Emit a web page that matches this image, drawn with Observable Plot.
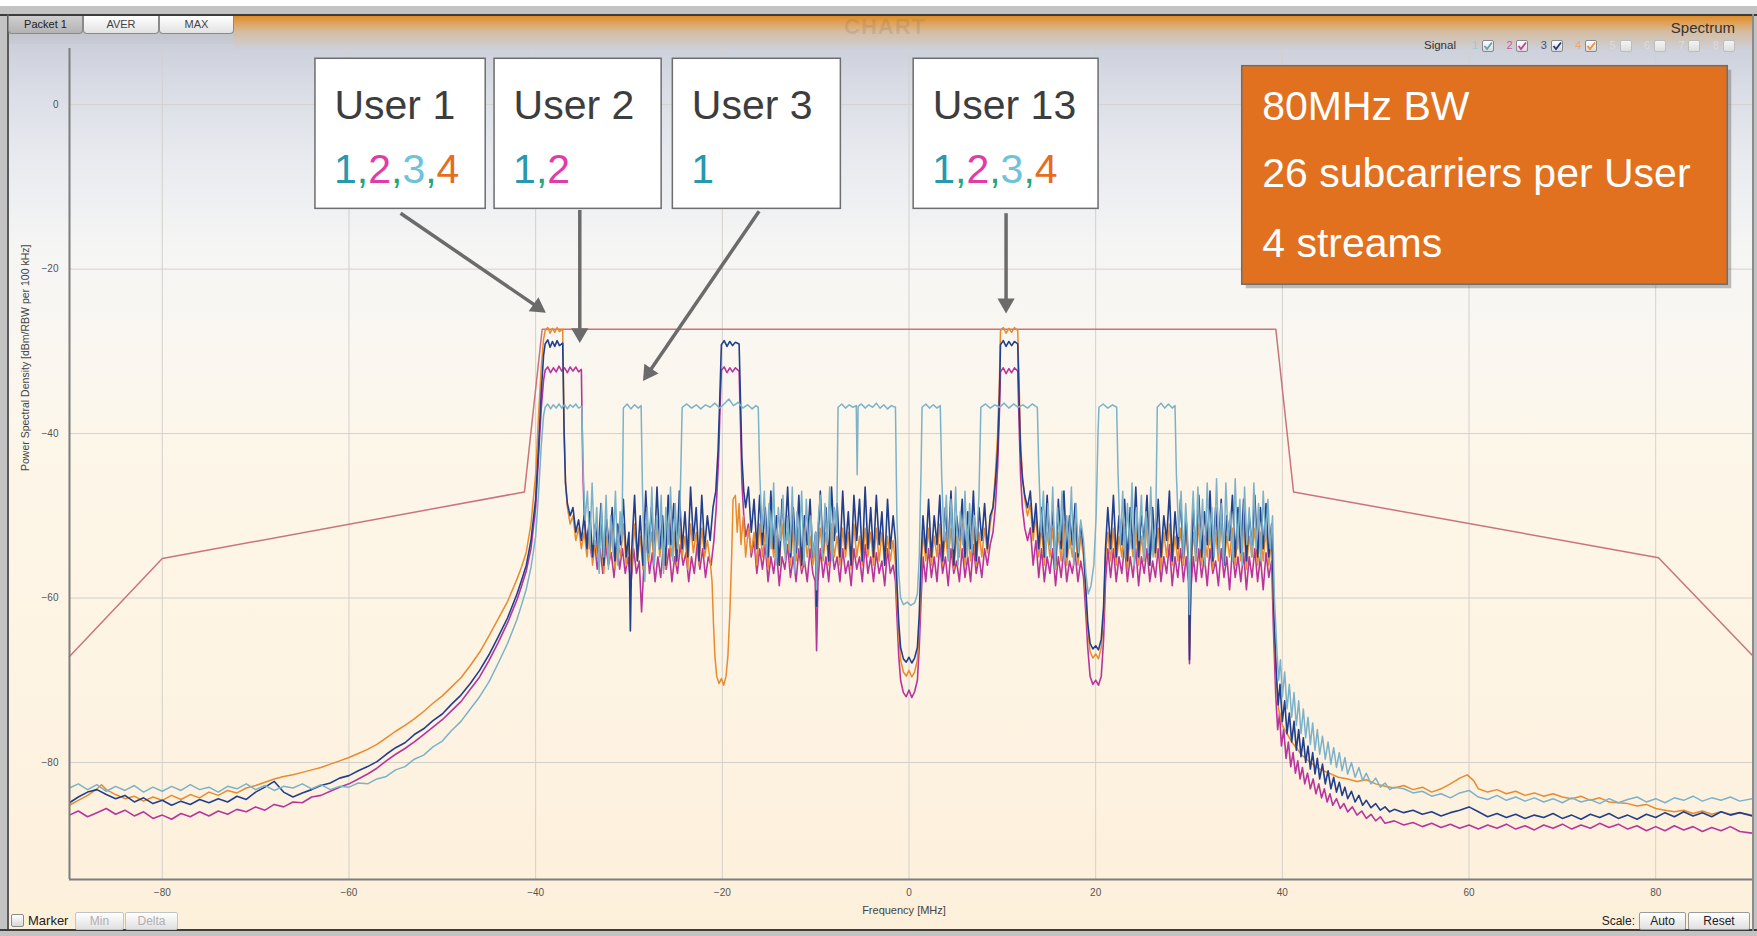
<!DOCTYPE html>
<html>
<head>
<meta charset="utf-8">
<script src="https://cdn.jsdelivr.net/npm/d3@7"></script>
<script src="https://cdn.jsdelivr.net/npm/@observablehq/plot@0.6"></script>
<style>
  html, body { margin:0; padding:0; background:#ffffff; }
  #wrap { position:relative; width:1757px; height:936px; overflow:hidden; font-family:"Liberation Sans", Arial, sans-serif; }
  .abs { position:absolute; }
  #outer { left:0; top:6px; width:1757px; height:930px; background:#c3c3c3; }
  #bg { left:9px; top:16px; width:1743px; height:913px;
        background:linear-gradient(to bottom, #c8cbd5 0px, #ccd0da 30px, #d9dce5 70px, #e8eaef 140px, #f5f5f4 230px, #faf7f1 330px, #fdf6e8 450px, #fdf3e2 700px, #fdf0db 913px); }
  #topline { left:0; top:14px; width:1757px; height:2px; background:#3c3c3c; }
  #leftline { left:7px; top:14px; width:2px; height:917px; background:#5a5a5a; }
  #botline { left:0; top:929px; width:1757px; height:2px; background:#3c3c3c; }
  #rightline { left:1752px; top:14px; width:2px; height:917px; background:#8a8a8a; }
  #orangeband { left:234px; top:16px; width:1518px; height:34px;
        background:linear-gradient(to bottom, rgba(224,140,38,1) 0px, rgba(228,152,60,0.85) 6px, rgba(225,170,100,0.45) 16px, rgba(210,195,185,0) 34px); }
  #btnband { left:9px; top:16px; width:225px; height:28px; background:linear-gradient(to bottom,#bcbcbc,#c8cbd5); }
  #chart { left:0; top:0; width:1757px; height:936px; }
  .tab { top:16px; height:18px; border:1px solid #8a8a8a; border-top:none; border-radius:0 0 4px 4px;
         font-size:11px; line-height:17px; text-align:center; color:#444; box-sizing:border-box;
         background:linear-gradient(to bottom,#ffffff,#e2e2e2); }
  .btn { height:18px; border:1px solid #9a9a9a; font-size:12px; line-height:16px; text-align:center; box-sizing:border-box;
         background:linear-gradient(to bottom,#ffffff,#e0e0e0); border-radius:2px; }
  .cb { width:12px; height:12px; border:1px solid #8a8a8a; box-sizing:border-box; border-radius:2px;
        background:linear-gradient(to bottom,#ffffff,#d8d8d8); }
</style>
</head>
<body>
<div id="wrap">
  <div id="outer" class="abs"></div>
  <div id="bg" class="abs"></div>
  <div id="btnband" class="abs"></div>
  <div id="orangeband" class="abs"></div>
  <div id="topline" class="abs"></div>
  <div id="leftline" class="abs"></div>
  <div id="botline" class="abs"></div>
  <div id="rightline" class="abs"></div>
  <div class="abs" style="left:835px;top:14px;width:100px;text-align:center;font-weight:bold;font-size:22px;color:rgba(140,115,90,0.22);letter-spacing:1px;">CHART</div>
  <div id="chart" class="abs"></div>
  <div class="abs tab" style="left:8px;width:75px;background:linear-gradient(to bottom,#cfcfcf,#b3b3b3);color:#222;">Packet 1</div>
  <div class="abs tab" style="left:83px;width:76px;">AVER</div>
  <div class="abs tab" style="left:159px;width:75px;">MAX</div>
  <div class="abs" style="left:1600px;top:19px;width:135px;text-align:right;font-size:15px;color:#333;">Spectrum</div>
  <div class="abs" style="left:1424px;top:39px;font-size:11.5px;color:#333;">Signal</div>
  <div id="legend"></div>
  <div class="abs cb" style="left:11px;top:914px;width:13px;height:13px;"></div>
  <div class="abs" style="left:28px;top:913px;font-size:13px;color:#222;">Marker</div>
  <div class="abs btn" style="left:75px;top:912px;width:49px;color:#b0b0b0;border-color:#c4c4c4;">Min</div>
  <div class="abs btn" style="left:125px;top:912px;width:53px;color:#b0b0b0;border-color:#c4c4c4;">Delta</div>
  <div class="abs" style="left:1560px;top:914px;width:75px;text-align:right;font-size:12px;color:#222;">Scale:</div>
  <div class="abs btn" style="left:1639px;top:912px;width:47px;color:#222;">Auto</div>
  <div class="abs btn" style="left:1688px;top:912px;width:62px;color:#222;">Reset</div>
</div>
<script>
// ---------- axis ticks ----------
const xTicks = [-80, -60, -40, -20, 0, 20, 40, 60, 80];
const yTicks = [0, -20, -40, -60, -80];

// ---------- spectral mask (MHz, dB) ----------
const maskFreq  = [-89.94, -80, -41.2, -39.3, 39.3, 41.2, 80.3, 90.37];
const maskLevel = [-67.1, -55.2, -47.1, -27.3, -27.3, -47.1, -55.1, -67.0];

// ---------- stream 1 (light cyan) [MHz, dB] ----------
const stream1 = [
 [-89.94,-83.1],[-89,-82.6],[-88,-83.3],[-87,-82.7],[-86,-83.5],[-85,-82.9],[-84,-83.4],[-83,-82.8],[-82,-83.6],[-81,-83.0],[-80,-83.5],[-79,-82.9],[-78,-83.4],[-77,-82.7],[-76,-83.3],[-75,-83.0],[-74,-83.6],[-73,-82.9],[-72,-83.2],[-71,-82.6],[-70,-83.3],[-69,-82.8],[-68,-83.4],[-67,-82.9],[-66,-83.1],[-65,-82.6],[-64,-83.2],[-63,-82.7],[-62,-83.3],[-61,-82.9],[-60,-83.0],[-59,-82.5],[-58,-82.6],[-57,-82.0],[-56,-81.7],[-55,-80.9],[-54,-80.5],[-53,-79.6],[-52,-79.1],[-51,-78.1],[-50,-77.4],[-49,-76.1],[-48,-75.0],[-47,-73.5],[-46,-72.0],[-45,-70.2],[-44,-67.9],[-43,-65.5],[-42,-62.6],[-41.5,-60.8],[-41,-58.9],[-40.5,-56.3],[-40,-52.5],[-39.7,-47.5],[-39.4,-41.5],[-39.15,-37.8],
 [-38.98,-36.8],[-38.7,-36.4],[-38.4,-37.0],[-38.1,-36.5],[-37.8,-36.9],[-37.5,-36.4],[-37.2,-36.9],[-36.9,-36.5],[-36.6,-37.0],[-36.3,-36.5],[-36.0,-36.8],[-35.7,-36.4],[-35.4,-36.9],[-35.05,-36.7],
 [-34.9,-44.5],[-34.7,-50.5],[-34.45,-47],[-34.2,-54],[-33.95,-46],[-33.7,-53.5],[-33.45,-49],[-33.2,-57],[-32.95,-48.5],[-32.7,-55],[-32.45,-47.5],[-32.2,-56.5],[-31.95,-50],[-31.7,-54.5],[-31.45,-47],[-31.2,-56],[-30.95,-49.5],[-30.75,-53],
 [-30.6,-36.9],[-30.2,-36.4],[-29.8,-37.0],[-29.4,-36.5],[-29.0,-36.9],[-28.7,-36.6],
 [-28.55,-47],[-28.3,-58],[-28.05,-49],[-27.8,-55],[-27.55,-46.5],[-27.3,-56],[-27.05,-50],[-26.8,-54],[-26.55,-47.5],[-26.3,-57],[-26.05,-49],[-25.8,-53.5],[-25.55,-46.5],[-25.3,-55.5],[-25.05,-48.5],[-24.8,-54],[-24.55,-50],
 [-24.3,-36.8],[-23.8,-36.4],[-23.3,-36.9],[-22.8,-36.5],[-22.3,-37.0],[-21.8,-36.5],[-21.3,-36.8],[-20.8,-36.3],[-20.3,-36.9],[-19.8,-36.4],[-19.3,-35.8],[-18.8,-36.6],[-18.3,-36.2],[-17.8,-36.9],[-17.3,-36.5],[-16.8,-37.0],[-16.4,-36.6],[-16.15,-36.8],
 [-16.0,-44.5],[-15.75,-52],[-15.5,-47],[-15.25,-55],[-15.0,-48.5],[-14.75,-54],[-14.5,-46],[-14.25,-56],[-14.0,-49],[-13.75,-53],[-13.5,-47.5],[-13.25,-55.5],[-13.0,-50],[-12.75,-54.5],[-12.5,-46.5],[-12.25,-57],[-12.0,-49.5],[-11.75,-53.5],[-11.5,-47],[-11.25,-56],[-11.0,-48],[-10.75,-54],[-10.5,-50],[-10.25,-55],[-10.0,-52],[-9.9,-59],[-9.75,-51],[-9.5,-47.5],[-9.25,-55],[-9.0,-48.5],[-8.75,-53.5],[-8.5,-46.5],[-8.25,-55.5],[-8.0,-49],[-7.75,-52],
 [-7.6,-36.8],[-7.2,-36.4],[-6.8,-36.9],[-6.4,-36.5],[-6.0,-36.8],[-5.65,-36.6],[-5.55,-45],[-5.45,-36.7],[-5.1,-36.4],[-4.7,-36.9],[-4.3,-36.5],[-3.9,-36.8],[-3.5,-36.3],[-3.1,-36.9],[-2.7,-36.5],[-2.3,-37.0],[-1.9,-36.6],[-1.45,-36.8],
 [-1.3,-50],[-1.1,-57],[-0.9,-60],[-0.6,-60.8],[-0.2,-60.5],[0.2,-60.9],[0.6,-60.6],[0.9,-59.5],[1.1,-55],[1.3,-44],
 [1.4,-36.8],[1.8,-36.4],[2.2,-36.9],[2.6,-36.5],[3.0,-36.9],[3.35,-36.6],
 [3.5,-45],[3.75,-53],[4.0,-47.5],[4.25,-55.5],[4.5,-48],[4.75,-54],[5.0,-46.5],[5.25,-56],[5.5,-49.5],[5.75,-53.5],[6.0,-47],[6.25,-55],[6.5,-48.5],[6.75,-54.5],[7.0,-50],[7.25,-53],[7.5,-47.5],
 [7.7,-36.8],[8.2,-36.4],[8.7,-36.9],[9.2,-36.5],[9.7,-36.8],[10.2,-36.3],[10.7,-36.9],[11.2,-36.4],[11.7,-36.8],[12.2,-36.5],[12.7,-36.9],[13.2,-36.4],[13.75,-36.8],
 [13.9,-44],[14.15,-52],[14.4,-47],[14.65,-55],[14.9,-48.5],[15.15,-54],[15.4,-46.5],[15.65,-56.5],[15.9,-49],[16.15,-53],[16.4,-47],[16.65,-55.5],[16.9,-50],[17.15,-54],[17.4,-46.5],[17.65,-56],[17.9,-48.5],[18.15,-54.5],[18.4,-50.5],[18.7,-53],
 [18.95,-57],[19.2,-59.5],[19.5,-58.5],[19.8,-56],[20.05,-50],[20.25,-40],
 [20.35,-36.8],[20.8,-36.4],[21.3,-36.9],[21.8,-36.5],[22.25,-36.8],
 [22.4,-45],[22.65,-53.5],[22.9,-47],[23.15,-55],[23.4,-48.5],[23.65,-54],[23.9,-46],[24.15,-56],[24.4,-49],[24.65,-53],[24.9,-47.5],[25.15,-55.5],[25.4,-49.5],[25.65,-54.5],[25.9,-46.5],[26.15,-55],[26.45,-50],
 [26.6,-36.8],[27.0,-36.3],[27.4,-36.9],[27.8,-36.4],[28.2,-36.9],[28.5,-36.6],
 [28.65,-45],[28.9,-52.5],[29.15,-47],[29.4,-55],[29.65,-48.5],[29.9,-54],[30.05,-62],[30.2,-53],[30.45,-47],[30.7,-55.5],[30.95,-46.5],[31.2,-54],[31.45,-48],[31.7,-56],[31.95,-46],[32.2,-53.5],[32.45,-49],[32.7,-55],[32.95,-45.5],[33.2,-54.5],[33.45,-48.5],[33.7,-56],[33.95,-46],[34.2,-53],[34.45,-49.5],[34.7,-55.5],[34.95,-45.5],[35.2,-54],[35.45,-48],[35.7,-56],[35.95,-46.5],[36.2,-53.5],[36.45,-49],[36.7,-55],[36.95,-46],[37.2,-54],[37.45,-48.5],[37.7,-55.5],[37.95,-47],[38.2,-53],[38.45,-48],[38.7,-54],[38.95,-50],
 [39.15,-60],[39.4,-66],[39.6,-70],[39.8,-67.5],[40.0,-72],[40.25,-69],[40.5,-73.5],[40.75,-70.5],[41.0,-74.5],[41.25,-71.5],[41.5,-75.5],[41.75,-72.5],[42.0,-76.5],[42.25,-73.5],[42.5,-77],[42.75,-74.5],[43.0,-77.8],[43.25,-75.2],[43.5,-78.5],[43.75,-76],[44.0,-79],[44.3,-76.8],[44.6,-79.6],[44.9,-77.5],[45.2,-80.2],[45.5,-78.2],[45.8,-80.6],[46.1,-78.8],[46.4,-81],[46.7,-79.4],[47.0,-81.4],[47.4,-80],[47.8,-81.8],[48.2,-80.6],[48.6,-82.2],[49,-81.3],[49.5,-82.6],[50,-81.9],[50.5,-83],[51,-82.5],[51.5,-83.3],[52,-83.0],[53,-83.2],[54,-83.7],[55,-83.5],[56,-84.1],[57,-83.8],[58,-84.3],[59,-83.7],[60,-83.4],[61,-84.2],[62,-84.5],[63,-84.0],[64,-84.6],[65,-84.2],[66,-84.7],[67,-84.3],[68,-84.8],[69,-84.4],[70,-84.9],[71,-84.3],[72,-84.8],[73,-84.5],[74,-85.0],[75,-84.4],[76,-84.9],[77,-84.5],[78,-84.2],[79,-84.8],[80,-84.4],[81,-84.9],[82,-84.3],[83,-84.6],[84,-84.1],[85,-84.7],[86,-84.3],[87,-84.6],[88,-84.2],[89,-84.7],[90.37,-84.4]
];

// ---------- stream 2 (magenta) ----------
const stream2 = [
 [-89.94,-86.4],[-89,-85.9],[-88,-86.6],[-87,-86.1],[-86,-85.6],[-85,-86.3],[-84,-85.8],[-83,-86.5],[-82,-86.0],[-81,-86.8],[-80,-86.4],[-79,-86.9],[-78,-86.2],[-77,-86.6],[-76,-86.0],[-75,-86.5],[-74,-85.9],[-73,-86.3],[-72,-85.7],[-71,-86.0],[-70,-85.4],[-69,-85.8],[-68,-85.1],[-67,-85.4],[-66,-84.8],[-65,-84.9],[-64,-84.2],[-63,-84.0],[-62,-83.5],[-61,-83.0],[-60,-82.6],[-59,-82.0],[-58,-81.4],[-57,-80.7],[-56,-79.8],[-55,-79.0],[-54,-78.3],[-53,-77.5],[-52,-76.6],[-51,-75.7],[-50,-74.8],[-49,-73.7],[-48,-72.6],[-47,-71.1],[-46,-69.6],[-45,-67.6],[-44,-65.4],[-43,-63.0],[-42,-60.2],[-41.5,-58.5],[-41,-56.7],[-40.5,-54],[-40,-49],[-39.7,-43],[-39.4,-37],[-39.15,-33.5],
 [-38.98,-32.3],[-38.7,-31.9],[-38.4,-32.6],[-38.1,-32.0],[-37.8,-32.5],[-37.5,-31.8],[-37.2,-32.4],[-36.9,-32.0],[-36.6,-32.6],[-36.3,-31.9],[-36.0,-32.4],[-35.7,-31.9],[-35.4,-32.5],[-35.1,-32.2],
 [-34.95,-44],[-34.8,-50],[-34.6,-53],[-34.3,-51.5],[-34.0,-55],[-33.7,-53],[-33.4,-56.5],[-33.1,-54],[-32.8,-57],[-32.5,-53.5],[-32.2,-56],[-31.9,-54.5],[-31.6,-57.5],[-31.3,-53],[-31.0,-56.5],[-30.7,-54],[-30.4,-57],[-30.1,-55],[-29.8,-58.5],[-29.5,-54],[-29.2,-57],[-28.9,-55.5],[-28.65,-61.7],[-28.4,-56],[-28.1,-53],[-27.8,-57],[-27.5,-54.5],[-27.2,-58],[-26.9,-55],[-26.6,-57.5],[-26.3,-53.5],[-26.0,-56.5],[-25.7,-54],[-25.4,-58],[-25.1,-55],[-24.8,-57],[-24.5,-53.5],[-24.2,-56],[-23.9,-54.5],[-23.6,-58],[-23.3,-55],[-23.0,-57],[-22.7,-53.5],[-22.4,-56.5],[-22.1,-54],[-21.8,-57.5],[-21.5,-55],[-21.2,-56],[-20.9,-53],[-20.65,-49],[-20.4,-43],[-20.22,-36],
 [-20.1,-32.3],[-19.8,-31.9],[-19.5,-32.6],[-19.2,-32.0],[-18.9,-32.5],[-18.6,-32.0],[-18.2,-32.4],
 [-18.05,-39],[-17.9,-46],[-17.7,-50],[-17.5,-52.5],[-17.2,-51],[-16.9,-55],[-16.6,-53],[-16.3,-57],[-16.0,-54],[-15.7,-56.5],[-15.4,-53.5],[-15.1,-58],[-14.8,-55],[-14.5,-57],[-14.2,-54],[-13.9,-58.5],[-13.6,-55],[-13.3,-56.5],[-13.0,-53.5],[-12.7,-57.5],[-12.4,-55],[-12.1,-58],[-11.8,-54],[-11.5,-57],[-11.2,-55.5],[-10.9,-58],[-10.6,-54],[-10.3,-57],[-10.05,-58],[-9.9,-66.4],[-9.75,-58],[-9.5,-54],[-9.2,-57.5],[-8.9,-55],[-8.6,-58],[-8.3,-53.5],[-8.0,-56.5],[-7.7,-55],[-7.4,-58],[-7.1,-54],[-6.8,-57],[-6.5,-55.5],[-6.2,-58.5],[-5.9,-54],[-5.6,-56.5],[-5.3,-55],[-5.0,-58],[-4.7,-53.5],[-4.4,-57],[-4.1,-55],[-3.8,-58],[-3.5,-54.5],[-3.2,-57],[-2.9,-55.5],[-2.6,-58.5],[-2.3,-54],[-2.0,-57],[-1.7,-56],[-1.45,-58],
 [-1.3,-62],[-1.1,-67],[-0.9,-70],[-0.6,-71.5],[-0.3,-72],[0,-71.2],[0.3,-72.1],[0.6,-71.4],[0.9,-70],[1.1,-66],[1.3,-60],
 [1.5,-55],[1.8,-58],[2.1,-54],[2.4,-57.5],[2.7,-55],[3.0,-58],[3.3,-53.5],[3.6,-57],[3.9,-55],[4.2,-58.5],[4.5,-54],[4.8,-57],[5.1,-55.5],[5.4,-58],[5.7,-54],[6.0,-57.5],[6.3,-55],[6.6,-58],[6.9,-53.5],[7.2,-57],[7.5,-55],[7.8,-57.5],[8.1,-54],[8.4,-56],[8.7,-53.5],[9.0,-52],[9.25,-49],[9.5,-44],[9.7,-37],
 [9.8,-32.5],[10.1,-32.0],[10.4,-32.7],[10.7,-32.1],[11.0,-32.6],[11.3,-32.0],[11.65,-32.4],
 [11.8,-39],[11.95,-45],[12.15,-49],[12.4,-51.5],[12.7,-53],[13.0,-51.5],[13.3,-56],[13.6,-53],[13.9,-57.5],[14.2,-54],[14.5,-58],[14.8,-55],[15.1,-57],[15.4,-54],[15.7,-58.5],[16.0,-55],[16.3,-57.5],[16.6,-54],[16.9,-58],[17.2,-55.5],[17.5,-57],[17.8,-54.5],[18.1,-58],[18.4,-55.5],[18.7,-57.5],
 [18.95,-62],[19.15,-66],[19.4,-69.5],[19.7,-70.5],[20.0,-70.0],[20.3,-70.6],[20.6,-69.5],[20.85,-65],[21.05,-58],
 [21.3,-54],[21.6,-57.5],[21.9,-54],[22.2,-58],[22.5,-55],[22.8,-57],[23.1,-53.5],[23.4,-58],[23.7,-55],[24.0,-57.5],[24.3,-54],[24.6,-58.5],[24.9,-55],[25.2,-57],[25.5,-54],[25.8,-58],[26.1,-55.5],[26.4,-57.5],[26.7,-54],[27.0,-58],[27.3,-55],[27.6,-57],[27.9,-53.5],[28.2,-58.5],[28.5,-55],[28.8,-57.5],[29.1,-54],[29.4,-58],[29.7,-55],[29.95,-58],[30.05,-68],[30.2,-59],[30.45,-55],[30.75,-58],[31.05,-54],[31.35,-57.5],[31.65,-55],[31.95,-58.5],[32.25,-54],[32.55,-57],[32.85,-55.5],[33.15,-58.5],[33.45,-54],[33.75,-57.5],[34.05,-55],[34.35,-59],[34.65,-54],[34.95,-57.5],[35.25,-55],[35.55,-58],[35.85,-54.5],[36.15,-59],[36.45,-55],[36.75,-57.5],[37.05,-54],[37.35,-58],[37.65,-55],[37.95,-59],[38.25,-54.5],[38.55,-57.5],[38.85,-55.5],
 [39.05,-64],[39.3,-72],[39.5,-76],[39.7,-74],[39.9,-78],[40.15,-76],[40.4,-79.5],[40.65,-77.5],[40.9,-80.5],[41.15,-78.8],[41.4,-81.3],[41.65,-79.8],[41.9,-82],[42.15,-80.6],[42.4,-82.6],[42.7,-81.3],[43.0,-83.2],[43.3,-82],[43.6,-83.8],[43.9,-82.6],[44.2,-84.3],[44.5,-83.2],[44.8,-84.8],[45.1,-83.8],[45.4,-85.2],[45.8,-84.4],[46.2,-85.6],[46.6,-85],[47,-86],[47.5,-85.4],[48,-86.4],[48.5,-85.9],[49,-86.8],[49.5,-86.3],[50,-87.1],[50.5,-86.6],[51,-87.4],[52,-87.1],[53,-87.6],[54,-87.3],[55,-87.8],[56,-87.4],[57,-87.9],[58,-87.5],[59,-88.0],[60,-87.6],[61,-88.1],[62,-87.6],[63,-88.0],[64,-87.5],[65,-88.1],[66,-87.7],[67,-88.2],[68,-87.6],[69,-88.0],[70,-87.5],[71,-88.1],[72,-87.6],[73,-88.0],[74,-87.4],[75,-87.9],[76,-87.5],[77,-88.1],[78,-87.7],[79,-88.3],[80,-87.8],[81,-88.3],[82,-87.7],[83,-88.2],[84,-87.8],[85,-88.4],[86,-87.9],[87,-88.3],[88,-87.8],[89,-88.4],[90.37,-88.6]
];

// ---------- stream 3 (navy) ----------
const stream3 = [
 [-89.94,-84.9],[-89,-84.2],[-88,-83.6],[-87,-83.3],[-86,-83.9],[-85,-84.4],[-84,-84.0],[-83,-84.8],[-82,-84.3],[-81,-85.0],[-80,-84.6],[-79,-85.2],[-78,-84.7],[-77,-85.1],[-76,-84.5],[-75,-84.9],[-74,-84.4],[-73,-84.8],[-72,-84.1],[-71,-84.5],[-70,-83.6],[-69,-83.0],[-68,-82.3],[-67,-83.6],[-66,-84.2],[-65,-83.7],[-64,-83.3],[-63,-82.8],[-62,-82.5],[-61,-81.9],[-60,-81.6],[-59,-81.0],[-58,-80.5],[-57,-79.9],[-56,-79.0],[-55,-78.2],[-54,-77.6],[-53,-76.6],[-52,-75.9],[-51,-74.9],[-50,-74.1],[-49,-72.9],[-48,-71.8],[-47,-70.4],[-46,-68.8],[-45,-66.9],[-44,-64.7],[-43,-62.4],[-42,-59.5],[-41.5,-57.8],[-41,-56.0],[-40.5,-53],[-40,-48],[-39.7,-42],[-39.4,-35],[-39.15,-30.5],
 [-38.98,-29.1],[-38.7,-28.6],[-38.45,-29.5],[-38.2,-28.8],[-37.95,-29.4],[-37.7,-28.7],[-37.45,-29.3],[-37.1,-29.0],
 [-36.95,-40],[-36.8,-46],[-36.6,-48.5],[-36.3,-50],[-36.0,-49],[-35.7,-52],[-35.4,-50.5],[-35.1,-53],
 [-34.8,-50],[-34.5,-54],[-34.2,-49.5],[-33.9,-55],[-33.6,-51],[-33.3,-54.5],[-33.0,-48.5],[-32.7,-56],[-32.4,-50.5],[-32.1,-54],[-31.8,-49],[-31.5,-55.5],[-31.2,-51],[-30.9,-53.5],[-30.6,-48],[-30.3,-55],[-30.0,-52],[-29.85,-64],[-29.7,-54],[-29.4,-47.5],[-29.1,-55.5],[-28.8,-50],[-28.5,-56],[-28.2,-47],[-27.9,-54.5],[-27.6,-49],[-27.3,-55],[-27.0,-46.5],[-26.7,-54],[-26.4,-50],[-26.1,-56],[-25.8,-47.5],[-25.5,-53.5],[-25.2,-48.5],[-24.9,-55.5],[-24.6,-47],[-24.3,-54],[-24.0,-49.5],[-23.7,-55],[-23.4,-46.5],[-23.1,-53],[-22.8,-49],[-22.5,-55.5],[-22.2,-47.5],[-21.9,-54],[-21.6,-50],[-21.3,-53],[-21.0,-49],[-20.7,-47],[-20.45,-42],[-20.25,-35],
 [-20.1,-29.2],[-19.8,-28.7],[-19.5,-29.4],[-19.2,-28.8],[-18.9,-29.3],[-18.6,-28.9],[-18.2,-29.1],
 [-18.05,-36],[-17.9,-43],[-17.7,-47],[-17.5,-49],[-17.2,-46.5],[-16.9,-52],[-16.6,-48],[-16.3,-54],[-16.0,-47.5],[-15.7,-53.5],[-15.4,-49],[-15.1,-55],[-14.8,-47],[-14.5,-54],[-14.2,-50],[-13.9,-56],[-13.6,-48],[-13.3,-53],[-13.0,-46.5],[-12.7,-55],[-12.4,-49],[-12.1,-54.5],[-11.8,-47.5],[-11.5,-56],[-11.2,-50],[-10.9,-53.5],[-10.6,-48],[-10.3,-55],[-10.0,-52],[-9.9,-61],[-9.75,-53],[-9.5,-47],[-9.2,-54.5],[-8.9,-49],[-8.6,-55.5],[-8.3,-46.5],[-8.0,-53],[-7.7,-48.5],[-7.4,-55],[-7.1,-47],[-6.8,-54],[-6.5,-49.5],[-6.2,-56],[-5.9,-47.5],[-5.6,-53],[-5.3,-48],[-5.0,-55.5],[-4.7,-46.5],[-4.4,-54],[-4.1,-49],[-3.8,-55],[-3.5,-47.5],[-3.2,-53.5],[-2.9,-49.5],[-2.6,-56],[-2.3,-48],[-2.0,-54],[-1.7,-50],[-1.45,-53],
 [-1.3,-58],[-1.1,-63],[-0.9,-66],[-0.6,-67.4],[-0.3,-67.8],[0,-67.2],[0.3,-67.9],[0.6,-67.3],[0.9,-66],[1.1,-62],[1.3,-55],
 [1.5,-50],[1.8,-54.5],[2.1,-48],[2.4,-55],[2.7,-50],[3.0,-53.5],[3.3,-47.5],[3.6,-55.5],[3.9,-49],[4.2,-54],[4.5,-47],[4.8,-56],[5.1,-50],[5.4,-53],[5.7,-48],[6.0,-55],[6.3,-49.5],[6.6,-54],[6.9,-47],[7.2,-55.5],[7.5,-49],[7.8,-53],[8.1,-48.5],[8.4,-54],[8.7,-50],[9.0,-49],[9.25,-46],[9.5,-42],[9.7,-35],
 [9.8,-29.2],[10.1,-28.7],[10.4,-29.4],[10.7,-28.8],[11.0,-29.3],[11.3,-28.8],[11.65,-29.1],
 [11.8,-36],[11.95,-42],[12.15,-45.5],[12.4,-47.5],[12.7,-49],[13.0,-47],[13.3,-52],[13.6,-48.5],[13.9,-54],[14.2,-49],[14.5,-55],[14.8,-47.5],[15.1,-53.5],[15.4,-49.5],[15.7,-56],[16.0,-48],[16.3,-54],[16.6,-47],[16.9,-55],[17.2,-50],[17.5,-53.5],[17.8,-48.5],[18.1,-55],[18.4,-51],[18.7,-54],
 [18.95,-59],[19.15,-63],[19.4,-65.5],[19.7,-66.2],[20.0,-65.8],[20.3,-66.3],[20.6,-65],[20.85,-61],[21.05,-54],
 [21.3,-49],[21.6,-54],[21.9,-47.5],[22.2,-55],[22.5,-50],[22.8,-53.5],[23.1,-48],[23.4,-55.5],[23.7,-49],[24.0,-54],[24.3,-46.5],[24.6,-55],[24.9,-50],[25.2,-53],[25.5,-47.5],[25.8,-56],[26.1,-49],[26.4,-54.5],[26.7,-48],[27.0,-55],[27.3,-50],[27.6,-53],[27.9,-47],[28.2,-55.5],[28.5,-49.5],[28.8,-54],[29.1,-48],[29.4,-55],[29.7,-50.5],[29.95,-56],[30.05,-67.5],[30.2,-57],[30.45,-49],[30.75,-54.5],[31.05,-47.5],[31.35,-55],[31.65,-49.5],[31.95,-53.5],[32.25,-47],[32.55,-55.5],[32.85,-49],[33.15,-54],[33.45,-48],[33.75,-56],[34.05,-50],[34.35,-53],[34.65,-47.5],[34.95,-55],[35.25,-49],[35.55,-54.5],[35.85,-48],[36.15,-55.5],[36.45,-50],[36.75,-53.5],[37.05,-47.5],[37.35,-55],[37.65,-49],[37.95,-54],[38.25,-48.5],[38.55,-55],[38.85,-51],
 [39.1,-62],[39.35,-69],[39.55,-73],[39.75,-70.5],[40.0,-75],[40.25,-72.5],[40.5,-76.5],[40.75,-74],[41.0,-77.5],[41.25,-75],[41.5,-78.5],[41.75,-76],[42.0,-79.3],[42.25,-77],[42.5,-80],[42.75,-78],[43.0,-80.8],[43.25,-78.8],[43.5,-81.4],[43.75,-79.5],[44.0,-82],[44.3,-80.2],[44.6,-82.6],[44.9,-81],[45.2,-83.2],[45.5,-81.8],[45.8,-83.6],[46.1,-82.4],[46.4,-84],[46.7,-83],[47.0,-84.4],[47.4,-83.5],[47.8,-84.8],[48.2,-84],[48.6,-85.2],[49,-84.6],[49.5,-85.5],[50,-85],[50.5,-85.8],[51,-85.4],[51.5,-86],[52,-85.7],[53,-86.1],[54,-85.8],[55,-86.3],[56,-86.0],[57,-86.5],[58,-86.1],[59,-85.8],[60,-85.4],[61,-86.0],[62,-86.6],[63,-86.2],[64,-86.7],[65,-86.3],[66,-86.8],[67,-86.4],[68,-86.7],[69,-86.2],[70,-86.8],[71,-86.4],[72,-86.9],[73,-86.3],[74,-86.7],[75,-86.2],[76,-86.8],[77,-86.4],[78,-86.9],[79,-86.3],[80,-86.7],[81,-86.1],[82,-86.6],[83,-86.0],[84,-86.5],[85,-86.1],[86,-86.6],[87,-86.0],[88,-86.4],[89,-86.1],[90.37,-86.5]
];

// ---------- stream 4 (orange) ----------
const stream4 = [
 [-89.94,-85.2],[-89,-84.6],[-88,-84.0],[-87,-83.2],[-86.5,-82.7],[-86,-83.3],[-85,-83.9],[-84,-84.4],[-83,-84.1],[-82,-84.7],[-81,-84.2],[-80,-84.6],[-79,-84.0],[-78,-84.5],[-77,-83.9],[-76,-84.3],[-75,-83.6],[-74,-84.0],[-73,-83.4],[-72,-83.7],[-71,-83.1],[-70,-82.8],[-69,-82.4],[-68,-82.0],[-67,-81.7],[-66,-81.5],[-65,-81.2],[-64,-80.9],[-63,-80.6],[-62,-80.2],[-61,-79.8],[-60,-79.4],[-59,-78.9],[-58,-78.4],[-57,-77.8],[-56,-77.0],[-55,-76.2],[-54,-75.5],[-53,-74.7],[-52,-73.8],[-51,-72.8],[-50,-71.9],[-49,-70.8],[-48,-69.7],[-47,-68.2],[-46,-66.6],[-45,-64.6],[-44,-62.5],[-43,-60.4],[-42,-57.7],[-41.5,-56.2],[-41,-54.4],[-40.5,-51],[-40,-45],[-39.7,-38],[-39.4,-32],[-39.15,-28.5],
 [-38.98,-27.5],[-38.7,-27.1],[-38.45,-27.8],[-38.2,-27.2],[-37.95,-27.7],[-37.7,-27.1],[-37.45,-27.6],[-37.1,-27.3],
 [-36.95,-39],[-36.8,-46],[-36.6,-49],[-36.3,-51],[-36.0,-50],[-35.7,-53],[-35.4,-51.5],[-35.1,-54],
 [-34.8,-52],[-34.5,-55],[-34.2,-51.5],[-33.9,-56],[-33.6,-53],[-33.3,-55.5],[-33.0,-51],[-32.7,-57],[-32.4,-52.5],[-32.1,-55.5],[-31.8,-51.5],[-31.5,-56.5],[-31.2,-53],[-30.9,-55],[-30.6,-51],[-30.3,-56],[-30.0,-53.5],[-29.7,-56.5],[-29.4,-51],[-29.1,-55.5],[-28.8,-52.5],[-28.5,-56.5],[-28.2,-51],[-27.9,-55.5],[-27.6,-52],[-27.3,-56],[-27.0,-50.5],[-26.7,-55],[-26.4,-52.5],[-26.1,-56.5],[-25.8,-51],[-25.5,-55],[-25.2,-52],[-24.9,-56],[-24.6,-51.5],[-24.3,-55],[-24.0,-52.5],[-23.7,-56.5],[-23.4,-51],[-23.1,-54.5],[-22.8,-52],[-22.5,-56],[-22.2,-51.5],[-21.9,-55],[-21.6,-53],[-21.3,-55.5],
 [-21.1,-58],[-20.95,-63],[-20.8,-67],[-20.6,-69.5],[-20.35,-70.4],[-20.1,-69.8],[-19.85,-70.6],[-19.6,-69.5],[-19.4,-67],[-19.2,-62],[-19.0,-55],[-18.85,-48],
 [-18.6,-47.5],[-18.4,-52],[-18.2,-48.5],[-18.0,-53.5],[-17.75,-50],[-17.5,-55],[-17.2,-51.5],[-16.9,-54.5],[-16.6,-52],[-16.3,-56],[-16.0,-51],[-15.7,-55],[-15.4,-52],[-15.1,-56.5],[-14.8,-51.5],[-14.5,-55],[-14.2,-52.5],[-13.9,-56],[-13.6,-51],[-13.3,-54.5],[-13.0,-52],[-12.7,-56],[-12.4,-51.5],[-12.1,-55.5],[-11.8,-52],[-11.5,-56.5],[-11.2,-51],[-10.9,-55],[-10.6,-52.5],[-10.3,-56],[-10.0,-54],[-9.9,-60],[-9.75,-54],[-9.5,-51.5],[-9.2,-55.5],[-8.9,-52],[-8.6,-56],[-8.3,-51],[-8.0,-55],[-7.7,-52.5],[-7.4,-56],[-7.1,-51.5],[-6.8,-55],[-6.5,-52],[-6.2,-56.5],[-5.9,-51],[-5.6,-55],[-5.3,-52.5],[-5.0,-56],[-4.7,-51.5],[-4.4,-55],[-4.1,-52],[-3.8,-56],[-3.5,-51.5],[-3.2,-55.5],[-2.9,-52],[-2.6,-56],[-2.3,-52.5],[-2.0,-55.5],[-1.7,-53],[-1.45,-56],
 [-1.3,-60],[-1.1,-64.5],[-0.9,-67.5],[-0.6,-69],[-0.3,-69.5],[0,-68.8],[0.3,-69.6],[0.6,-69],[0.9,-67.5],[1.1,-63.5],[1.3,-57],
 [1.5,-52],[1.8,-55.5],[2.1,-51.5],[2.4,-56],[2.7,-52.5],[3.0,-55],[3.3,-51],[3.6,-56],[3.9,-52],[4.2,-55.5],[4.5,-51.5],[4.8,-56.5],[5.1,-52.5],[5.4,-55],[5.7,-51],[6.0,-56],[6.3,-52],[6.6,-55.5],[6.9,-51.5],[7.2,-56],[7.5,-52],[7.8,-55],[8.1,-51.5],[8.4,-54.5],[8.7,-51],[9.0,-49],[9.25,-45],[9.5,-40],[9.7,-33],
 [9.8,-27.5],[10.1,-27.1],[10.4,-27.8],[10.7,-27.2],[11.0,-27.7],[11.3,-27.1],[11.65,-27.5],
 [11.8,-34],[11.95,-41],[12.15,-45],[12.4,-48],[12.7,-50],[13.0,-48.5],[13.3,-53],[13.6,-50],[13.9,-55],[14.2,-51.5],[14.5,-56],[14.8,-52],[15.1,-55],[15.4,-51.5],[15.7,-56.5],[16.0,-52],[16.3,-55.5],[16.6,-51],[16.9,-56],[17.2,-52.5],[17.5,-55],[17.8,-51.5],[18.1,-56],[18.4,-52.5],[18.7,-55],
 [18.95,-60],[19.15,-64],[19.4,-66.5],[19.7,-67.3],[20.0,-66.8],[20.3,-67.4],[20.6,-66],[20.85,-62],[21.05,-55],
 [21.3,-52],[21.6,-55.5],[21.9,-51.5],[22.2,-56],[22.5,-52.5],[22.8,-55],[23.1,-51],[23.4,-56.5],[23.7,-52],[24.0,-55],[24.3,-51.5],[24.6,-56],[24.9,-52.5],[25.2,-55.5],[25.5,-51],[25.8,-56],[26.1,-52],[26.4,-55],[26.7,-51.5],[27.0,-56.5],[27.3,-52],[27.6,-55],[27.9,-51],[28.2,-56],[28.5,-52.5],[28.8,-55.5],[29.1,-51.5],[29.4,-56],[29.7,-52],[29.95,-56],[30.05,-66],[30.2,-57],[30.45,-52],[30.75,-55.5],[31.05,-51],[31.35,-56],[31.65,-52.5],[31.95,-55],[32.25,-51.5],[32.55,-56.5],[32.85,-52],[33.15,-55.5],[33.45,-51],[33.75,-56],[34.05,-52.5],[34.35,-55],[34.65,-51.5],[34.95,-56],[35.25,-52],[35.55,-55.5],[35.85,-51],[36.15,-56.5],[36.45,-52.5],[36.75,-55],[37.05,-51.5],[37.35,-56],[37.65,-52],[37.95,-55.5],[38.25,-51.5],[38.55,-56],[38.85,-53],
 [39.1,-63],[39.35,-70],[39.6,-73.5],[40.0,-75.5],[40.5,-76.5],[41,-77.5],[41.5,-78.2],[42,-79],[43,-80],[44,-80.8],[45,-81.3],[46,-81.8],[47,-82.0],[48,-82.3],[49,-82.1],[50,-82.6],[51,-82.9],[52,-83.1],[53,-82.8],[54,-83.3],[55,-83.0],[56,-83.6],[57,-83.2],[58,-82.6],[59,-81.9],[59.8,-81.5],[60.5,-82.2],[61,-83.2],[62,-83.6],[63,-83.3],[64,-83.8],[65,-83.5],[66,-84.0],[67,-83.7],[68,-84.1],[69,-83.8],[70,-84.2],[71,-84.4],[72,-84.1],[73,-84.6],[74,-84.3],[75,-84.8],[76,-84.9],[77,-85.0],[78,-85.3],[79,-85.1],[80,-85.6],[81,-85.8],[82,-86.0],[83,-85.8],[84,-86.2],[85,-85.9],[86,-86.3],[87,-86.0],[88,-86.3],[89,-86.1],[90.37,-86.4]
];

// ---------- annotation texts ----------
const userLabels  = ["User 1", "User 2", "User 3", "User 13"];
const userStreams = [[1, 2, 3, 4], [1, 2], [1], [1, 2, 3, 4]];
const infoLines   = ["80MHz BW", "26 subcarriers per User", "4 streams"];
const legendNums  = [1, 2, 3, 4, 5, 6, 7, 8];
const legendOn    = [true, true, true, true, false, false, false, false];

// ---------- layout / styles ----------
const W = 1757, H = 936, mL = 69, mR = 5, mT = 48, mB = 57;
const xDomain = [-89.94, 90.37], yDomain = [-94.23, 6.83];
const traceColors = {1: "#7bb2ca", 2: "#b8359c", 3: "#223f8c", 4: "#e88a2e"};
const textColors  = {1: "#2798ad", 2: "#e33aa9", 3: "#6cc3da", 4: "#e46d1f"};
const commaColor = "#27a47c";
const legendDigit = ["#9cc9d3", "#c8589f", "#44507e", "#f0a868", "#dcdcdc", "#dcdcdc", "#dcdcdc", "#dcdcdc"];
const legendCheck = ["#5aa6b8", "#c0409a", "#203a80", "#e8923a"];

// annotation geometry (data units: MHz / dB)
const boxGeom = {left: [-63.59, -44.4, -25.3, 0.5], right: [-45.35, -26.5, -7.3, 20.31], top: 5.58, bottom: -12.67, titleY: -1.7, streamY: -9.6};
const arrowFrom = [[-54.47, -13.2], [-35.27, -12.8], [-16.06, -12.95], [10.4, -13.2]];
const arrowTo   = [[-38.9, -25.3], [-35.27, -29.0], [-28.5, -33.6], [10.4, -25.4]];
const infoBox = {x1: 35.7, x2: 87.72, y1: -21.9, y2: 4.68, textX: 37.84, lineY: [-1.92, -10.03, -18.55]};

const rows = a => a.map(([f, p]) => ({f, p}));
const mask = maskFreq.map((f, i) => ({f, p: maskLevel[i]}));

const sx = Plot.scale({x: {domain: xDomain, range: [mL, W - mR]}});
const sy = Plot.scale({y: {domain: yDomain, range: [H - mB, mT]}});

const arrows = arrowFrom.map((a, i) => {
  const b = arrowTo[i];
  const X0 = sx.apply(a[0]), Y0 = sy.apply(a[1]), X1 = sx.apply(b[0]), Y1 = sy.apply(b[1]);
  const len = Math.hypot(X1 - X0, Y1 - Y0), ux = (X1 - X0) / len, uy = (Y1 - Y0) / len;
  return {
    x1: a[0], y1: a[1],
    x2: sx.invert(X1 - ux * 12), y2: sy.invert(Y1 - uy * 12),
    hx: sx.invert(X1 - ux * 10), hy: sy.invert(Y1 - uy * 10),
    rot: Math.atan2(ux, -uy) * 180 / Math.PI
  };
});

const boxes = userLabels.map((label, i) => ({
  label, l: boxGeom.left[i], r: boxGeom.right[i], t: boxGeom.top, b: boxGeom.bottom, ty: boxGeom.titleY
}));
const info = infoLines.map((text, i) => ({text, x: infoBox.textX, y: infoBox.lineY[i]}));

const FONT = "Liberation Sans, Arial, sans-serif";
const lineOpts = (c, w) => ({x: "f", y: "p", stroke: c, strokeWidth: w, clip: true});

const plot = Plot.plot({
  width: W, height: H,
  marginLeft: mL, marginRight: mR, marginTop: mT, marginBottom: mB,
  x: {domain: xDomain},
  y: {domain: yDomain},
  style: {background: "transparent", fontFamily: FONT, fontSize: "10px", overflow: "visible"},
  marks: [
    Plot.ruleX(xTicks, {stroke: "#d3d0cc", strokeWidth: 1}),
    Plot.ruleY(yTicks, {stroke: "#d3d0cc", strokeWidth: 1}),
    Plot.line(mask, {x: "f", y: "p", stroke: "#c9747c", strokeWidth: 1.5}),
    Plot.line(rows(stream2), lineOpts(traceColors[2], 1.6)),
    Plot.line(rows(stream4), lineOpts(traceColors[4], 1.5)),
    Plot.line(rows(stream3), lineOpts(traceColors[3], 1.6)),
    Plot.line(rows(stream1), lineOpts(traceColors[1], 1.5)),
    Plot.ruleX([xDomain[0]], {stroke: "#7d7d7d", strokeWidth: 2}),
    Plot.ruleY([yDomain[0]], {stroke: "#7d7d7d", strokeWidth: 2}),
    Plot.axisX({ticks: xTicks, tickSize: 0, tickPadding: 9, label: null, color: "#555", fontSize: 10}),
    Plot.axisY({ticks: yTicks, tickSize: 0, tickPadding: 11, label: null, color: "#555", fontSize: 10}),
    Plot.text(["Frequency [MHz]"], {frameAnchor: "bottom", dy: 34, dx: -7, fontSize: 11, fill: "#444"}),
    Plot.text(["Power Spectral Density [dBm/RBW per 100 kHz]"], {frameAnchor: "left", dx: -44, dy: 7, rotate: -90, fontSize: 10.5, fill: "#444"}),
    Plot.rect(boxes, {x1: "l", x2: "r", y1: "b", y2: "t", fill: "white", stroke: "#6d6d6d", strokeWidth: 1.5}),
    Plot.text(boxes, {x: "l", y: "ty", text: "label", dx: 19, textAnchor: "start", lineAnchor: "bottom", fontSize: 41, fill: "#3d3d3d", fontFamily: FONT}),
    Plot.link(arrows, {x1: "x1", y1: "y1", x2: "x2", y2: "y2", stroke: "#6b6b6b", strokeWidth: 3.5}),
    Plot.dot(arrows, {x: "hx", y: "hy", symbol: "triangle", r: 6.4, rotate: "rot", fill: "#6b6b6b", stroke: "none"}),
    Plot.rect([infoBox], {x1: "x1", x2: "x2", y1: "y1", y2: "y2", fill: "#333", fillOpacity: 0.3, dx: 4, dy: 4}),
    Plot.rect([infoBox], {x1: "x1", x2: "x2", y1: "y1", y2: "y2", fill: "#e1701f", stroke: "#6e6e6e", strokeWidth: 1.5}),
    Plot.text(info, {x: "x", y: "y", text: "text", textAnchor: "start", lineAnchor: "bottom", fontSize: 41, fill: "white", fontFamily: FONT})
  ]
});

// coloured stream numbers inside the user boxes (multi-colour text)
const g = d3.select(plot).append("g")
  .attr("font-family", FONT).attr("font-size", 41).attr("text-anchor", "start");
boxes.forEach((b, i) => {
  const t = g.append("text")
    .attr("text-anchor", "start")
    .attr("x", plot.scale("x").apply(b.l) + 19)
    .attr("y", plot.scale("y").apply(boxGeom.streamY));
  userStreams[i].forEach((s, j) => {
    if (j > 0) t.append("tspan").attr("fill", commaColor).text(",");
    t.append("tspan").attr("fill", textColors[s]).text(String(s));
  });
});

document.getElementById("chart").appendChild(plot);

// signal legend
const legend = document.getElementById("legend");
legendNums.forEach((n, i) => {
  const bx = 1482 + i * 34.4;
  const d = document.createElement("div");
  d.className = "abs";
  d.style.cssText = `left:${bx - 10}px;top:39px;font-size:11px;color:${legendDigit[i]};`;
  d.textContent = n;
  legend.appendChild(d);
  const c = document.createElement("div");
  c.className = "abs cb";
  c.style.cssText = `left:${bx}px;top:40px;` + (legendOn[i] ? "" : "border-color:#bdbdbd;background:linear-gradient(to bottom,#f4f4f4,#dedede);");
  if (legendOn[i]) {
    c.innerHTML = `<svg width="10" height="10" style="position:absolute;left:0;top:0"><path d="M1.5 5 L4 8 L9 1.5" fill="none" stroke="${legendCheck[i]}" stroke-width="1.8"/></svg>`;
  }
  legend.appendChild(c);
});
</script>
</body>
</html>
